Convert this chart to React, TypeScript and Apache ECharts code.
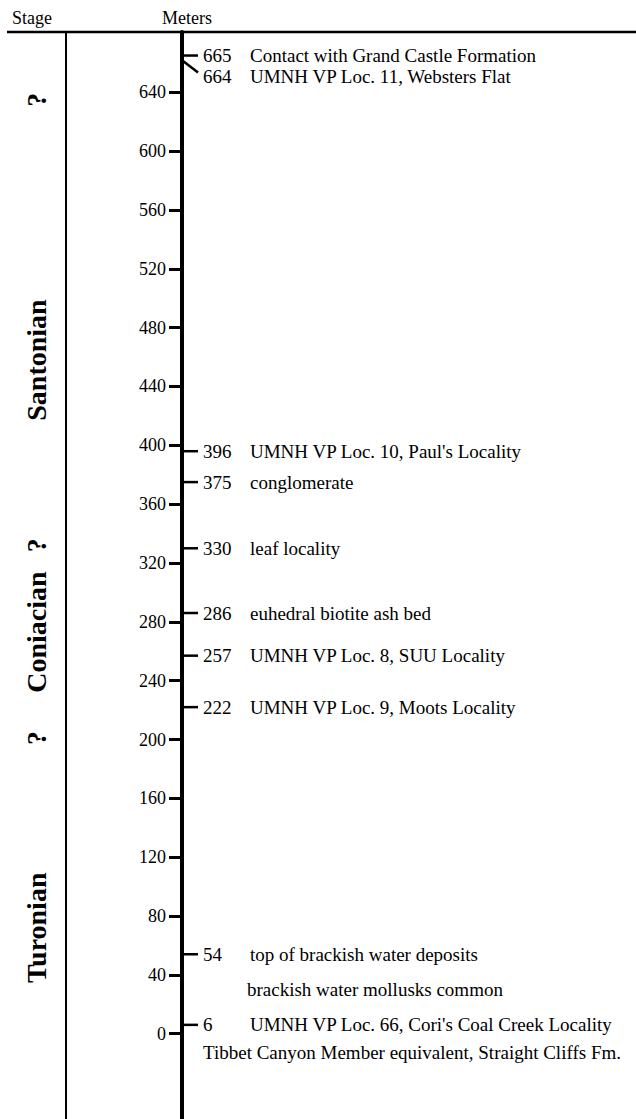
import React, { useEffect, useRef } from "react";
import * as echarts from "echarts";

// ---- data ----
const METER_TICKS = [0, 40, 80, 120, 160, 200, 240, 280, 320, 360, 400, 440, 480, 520, 560, 600, 640];
const AXIS_MIN = -58;
const AXIS_MAX = 681;

const EVENT_METERS = [665, 664, 396, 375, 330, 286, 257, 222, 54, 6];
const EVENT_LABELS = [
  "Contact with Grand Castle Formation",
  "UMNH VP Loc. 11, Websters Flat",
  "UMNH VP Loc. 10, Paul's Locality",
  "conglomerate",
  "leaf locality",
  "euhedral biotite ash bed",
  "UMNH VP Loc. 8, SUU Locality",
  "UMNH VP Loc. 9, Moots Locality",
  "top of brackish water deposits",
  "UMNH VP Loc. 66, Cori's Coal Creek Locality",
];

const NOTE_METERS = [30, -13];
const NOTE_LABELS = [
  "brackish water mollusks common",
  "Tibbet Canyon Member equivalent, Straight Cliffs Fm.",
];

const STAGE_NAMES = ["?", "Santonian", "?", "Coniacian", "?", "Turonian"];
const STAGE_MID_METERS = [635, 458, 332, 273, 201, 72];

// ---- styles / layout ----
const SERIF = "'Liberation Serif', 'Times New Roman', serif";
const NOTE_X = [247, 203];
const STAGE_X = 36;

export default function App() {
  const ref = useRef<HTMLDivElement>(null);

  useEffect(() => {
    if (!ref.current) return;
    const chart = echarts.init(ref.current, null, { renderer: "svg" });

    const eventRender = (params: any, api: any) => {
      const i = api.value(2);
      const ys = EVENT_METERS.map((v) => api.coord([0, v])[1]);
      const lys: number[] = [];
      ys.forEach((y, k) => {
        lys.push(k === 0 ? y : Math.max(y, lys[k - 1] + 21));
      });
      const axisX = api.coord([0, 0])[0];
      const y = ys[i];
      const ly = lys[i];
      return {
        type: "group",
        children: [
          {
            type: "line",
            shape: { x1: axisX + 1, y1: ly === y ? y : y + 4, x2: axisX + 16, y2: ly === y ? y : ly - 4 },
            style: { stroke: "#000", lineWidth: 2.5 },
          },
          {
            type: "text",
            style: {
              x: axisX + 21,
              y: ly,
              text: String(EVENT_METERS[i]),
              font: `19px ${SERIF}`,
              fill: "#000",
              align: "left",
              textAlign: "left",
              verticalAlign: "middle",
              textVerticalAlign: "middle",
            },
          },
          {
            type: "text",
            style: {
              x: axisX + 68,
              y: ly,
              text: EVENT_LABELS[i],
              font: `19px ${SERIF}`,
              fill: "#000",
              align: "left",
              textAlign: "left",
              verticalAlign: "middle",
              textVerticalAlign: "middle",
            },
          },
        ],
      };
    };

    const noteRender = (params: any, api: any) => {
      const i = api.value(2);
      const y = api.coord([0, api.value(1)])[1];
      return {
        type: "text",
        style: {
          x: NOTE_X[i],
          y,
          text: NOTE_LABELS[i],
          font: `19px ${SERIF}`,
          fill: "#000",
          align: "left",
          textAlign: "left",
          verticalAlign: "middle",
          textVerticalAlign: "middle",
        },
      };
    };

    const stageRender = (params: any, api: any) => {
      const i = api.value(2);
      const y = api.coord([0, api.value(1)])[1];
      return {
        type: "text",
        x: STAGE_X,
        y,
        rotation: Math.PI / 2,
        style: {
          x: 0,
          y: 0,
          text: STAGE_NAMES[i],
          font: `bold 28px ${SERIF}`,
          fill: "#000",
          align: "center",
          textAlign: "center",
          verticalAlign: "middle",
          textVerticalAlign: "middle",
        },
      };
    };

    chart.setOption({
      animation: false,
      backgroundColor: "#fff",
      grid: { left: 182, right: 0, top: 32, bottom: 0, containLabel: false },
      xAxis: { type: "value", min: 0, max: 1, show: false },
      yAxis: {
        type: "value",
        min: AXIS_MIN,
        max: AXIS_MAX,
        splitLine: { show: false },
        axisLine: { show: true, onZero: false, lineStyle: { color: "#000", width: 4 } },
        axisTick: {
          show: true,
          inside: false,
          length: 13,
          lineStyle: { color: "#000", width: 3 },
          customValues: METER_TICKS,
        },
        axisLabel: {
          show: true,
          margin: 16,
          color: "#000",
          fontFamily: SERIF,
          fontSize: 18,
          customValues: METER_TICKS,
          formatter: (v: number) => String(v),
        },
      },
      graphic: [
        {
          type: "text",
          left: 12,
          top: 9,
          style: { text: "Stage", font: `18px ${SERIF}`, fill: "#000" },
        },
        {
          type: "text",
          left: 162,
          top: 9,
          style: { text: "Meters", font: `18px ${SERIF}`, fill: "#000" },
        },
        {
          type: "line",
          shape: { x1: 7, y1: 32, x2: 636, y2: 32 },
          style: { stroke: "#000", lineWidth: 2.5 },
        },
        {
          type: "line",
          shape: { x1: 66, y1: 32, x2: 66, y2: 1119 },
          style: { stroke: "#000", lineWidth: 2 },
        },
      ],
      series: [
        {
          type: "custom",
          silent: true,
          clip: false,
          renderItem: eventRender,
          data: EVENT_METERS.map((v, i) => [0, v, i]),
        },
        {
          type: "custom",
          silent: true,
          clip: false,
          renderItem: noteRender,
          data: NOTE_METERS.map((v, i) => [0, v, i]),
        },
        {
          type: "custom",
          silent: true,
          clip: false,
          renderItem: stageRender,
          data: STAGE_MID_METERS.map((v, i) => [0, v, i]),
        },
      ],
    });

    return () => chart.dispose();
  }, []);

  return (
    <div
      ref={ref}
      style={{ position: "absolute", left: 0, top: 0, width: 636, height: 1119, background: "#fff" }}
    />
  );
}
